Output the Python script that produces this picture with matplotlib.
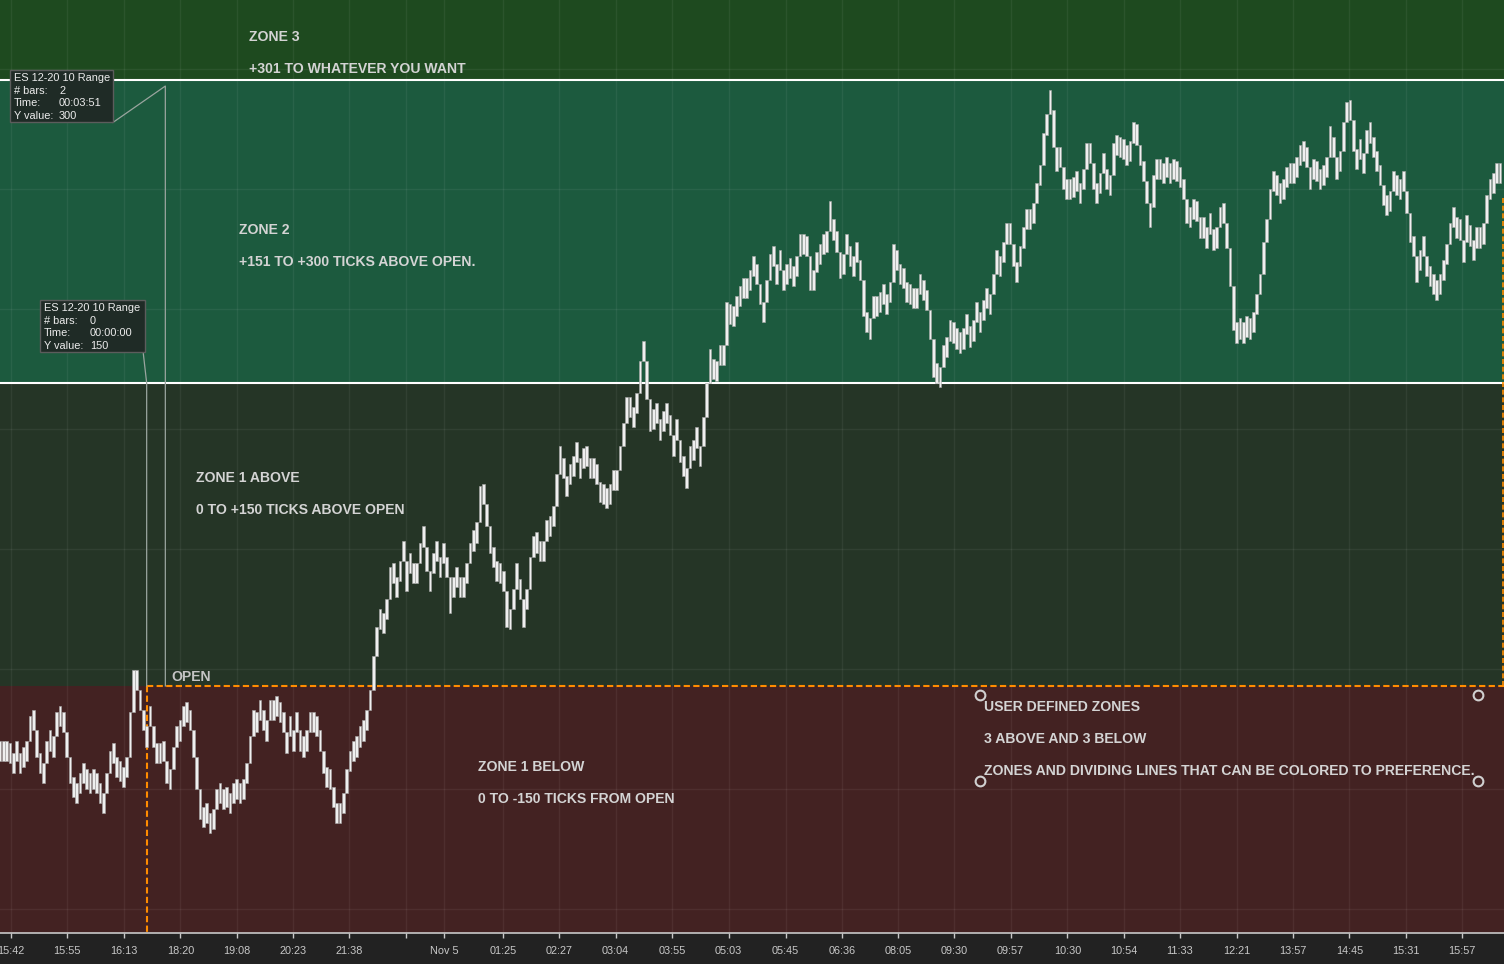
import matplotlib
matplotlib.use('Agg')
import matplotlib.pyplot as plt
from matplotlib.patches import Rectangle
from matplotlib.lines import Line2D

plt.rcParams['font.family'] = ['Liberation Sans', 'DejaVu Sans']

W, H = 1504, 964

# ---------------- data (ticks relative to the open, one value per 10-tick range bar) ----
seg_pre_open = [
    -32, -32, -32, -33, -38, -32, -38, -35, -32, -20,
    -17, -30, -38, -43, -32, -27, -30, -18, -15, -18,
    -30, -43, -50, -53, -48, -43, -46, -48, -46, -48,
    -53, -58, -48, -37, -33, -40, -42, -45, -40, -18,
    3, 3, -7, -17, -25, -15, -25, -33, -33, -32,
    -43, -46, -35, -25, -22, -15, -13, -17, -30, -46,
    -61, -65, -63, -68, -66, -56, -53, -56, -55, -58,
    -53, -51, -53, -51, -43, -30, -17, -18, -12, -17,
    -22, -12, -12, -10, -13, -18, -28, -20, -27, -18,
    -27, -30, -27, -18, -18, -20, -27, -38, -45, -46,
    -55, -63, -63, -58, -46, -37, -32, -30, -25, -22,
    -17, -7, 10]
seg_zone1 = [
    24, 33, 31, 38, 54, 56, 49, 57, 67, 52, 61, 56, 56, 66, 74, 62, 52, 61, 67, 59,
    66, 59, 41, 49, 54, 49, 49, 56, 66, 72, 76, 94, 95, 84, 71, 64, 57, 56, 52, 34,
    33, 43, 56, 48, 34, 43, 59, 69, 71, 67, 67, 77, 79, 84, 100]
seg_cross = [
    114, 108, 99, 105, 109, 116, 108, 113, 114, 108, 108, 105, 96, 95, 93, 95, 102, 102,
    114, 125, 138, 138, 133, 140, 156, 166, 147, 131, 132, 135, 127, 131, 135, 129, 119,
    127, 116, 109, 103, 114, 117, 123, 114, 128, 145, 162, 157, 156, 164, 164,
    185, 184, 183, 188]
seg_zone2a = [
    193, 197, 197, 201, 208, 204, 194, 185, 196, 209, 213, 204, 211, 201, 204, 207, 203,
    208, 219, 219, 218, 201, 201, 210, 214, 219, 220, 235, 226, 220, 207, 209, 219, 213,
    208, 215, 206, 188, 180, 177, 188, 188, 190, 194, 189, 195, 214, 211, 204, 202,
    195, 194, 192, 192, 199, 196, 191, 177, 158, 155, 153, 164, 168, 176, 175, 172]
seg_zone2b = [
    170, 172, 179, 173, 176, 185, 180, 186, 192, 189, 199, 211, 208, 215, 224, 224, 213,
    205, 213, 222, 231, 231, 234, 244, 253, 269, 278, 290, 272, 260, 262, 251, 246, 246,
    247, 250, 244, 251, 264, 264, 251, 244, 249, 259, 251, 248, 264, 268, 267, 266,
    263, 265, 274, 273, 263, 255, 244, 232, 248, 256, 256, 254, 257, 254, 256, 255,
    252, 246, 234, 232, 236, 235, 227]
seg_zone2c = [
    227, 222, 229, 221, 222, 232, 234, 222, 203, 181, 175, 177, 175, 178, 177, 180, 189,
    199, 215, 226, 241, 250, 248, 244, 246, 252, 254, 254, 257, 263, 265, 262, 251, 256,
    255, 251, 253, 257, 272, 267, 256, 260, 274, 284, 285, 270, 261, 266, 259, 270,
    274, 267, 260, 253, 243, 238, 240, 250, 248, 246, 250, 239, 225, 218, 205, 211,
    218, 208, 203, 199, 196, 199, 206, 214, 224, 232, 227, 226, 215, 228,
    223, 216, 222, 222, 224, 238, 246, 249, 254, 254]
bar_mid = seg_pre_open + seg_zone1 + seg_cross + seg_zone2a + seg_zone2b + seg_zone2c
bar_range = 10

open_bar = 44          # bar where the session opens
open_level = 0
zone_edges = [-400, 0, 150, 300, 600]
zone_colors = ['#432222', '#253526', '#1c5a3e', '#1e4a1f']
zone_lines = [150, 300]
last_marker = 242

grid_levels = [305.4, 246.0, 186.6, 127.2, 67.8, 8.4, -51.0, -110.4]

tick_bars = [3.2, 20.1, 37.1, 54.1, 71.0, 87.8, 104.7, 121.7, 133.3, 151.0, 167.8,
             184.7, 201.7, 218.6, 235.7, 252.6, 269.4, 286.3, 303.2, 320.2, 337.1,
             353.9, 371.0, 387.8, 404.8, 421.7, 438.6]
tick_labels = ["15:42", "15:55", "16:13", "18:20", "19:08", "20:23", "21:38", "", "Nov 5",
               "01:25", "02:27", "03:04", "03:55", "05:03", "05:45", "06:36", "08:05",
               "09:30", "09:57", "10:30", "10:54", "11:33", "12:21", "13:57", "14:45",
               "15:31", "15:57"]

tip1 = ["ES 12-20 10 Range", "# bars:", "Time:", "Y value:"]
tip1_vals = ["", "2", "00:03:51", "300"]
tip2_vals = ["", "0", "00:00:00", "150"]

# ---------------- figure ----------------
fig = plt.figure(figsize=(W / 100, H / 100), dpi=100, facecolor='#222222')
ax = fig.add_axes([0, 31 / H, 1, 933 / H])
ax.set_facecolor('#222222')
ax.set_xlim(0, W * 0.3)
ax.set_ylim(-122.3, 339.6)

for lo, hi, c in zip(zone_edges[:-1], zone_edges[1:], zone_colors):
    ax.axhspan(lo, hi, color=c, zorder=0, lw=0)

for g in grid_levels:
    ax.axhline(g, color='white', alpha=0.06, lw=1, zorder=1)
for tb in tick_bars:
    ax.axvline(tb, color='white', alpha=0.06, lw=1, zorder=1)

for z in zone_lines:
    ax.axhline(z, color='white', lw=1.5, zorder=3)

# orange open lines
dash = (0, (3, 1.6))
ax.plot([open_bar, W * 0.3], [open_level, open_level], color='#ff8c00', lw=1.5,
        ls=dash, zorder=4)
ax.plot([open_bar, open_bar], [open_level, -130], color='#ff8c00', lw=1.5,
        ls=dash, zorder=4)
ax.plot([W * 0.3 - 0.3, W * 0.3 - 0.3], [open_level, last_marker], color='#ff8c00', lw=1.2,
        ls=dash, zorder=4)

# measurement lines (data coords)
ax.plot([33.9, 49.6, 49.6], [279, 297, open_level], color='#9aa59f', lw=0.9, zorder=4)
ax.plot([43.0, 44.0, 44.0], [164.5, 150, open_level], color='#9aa59f', lw=0.9, zorder=4)

# range bars: each bar spans its 10-tick range and touches the previous bar
xs, lows, heights = [], [], []
half = bar_range / 2
for i, m in enumerate(bar_mid):
    lo, hi = m - half, m + half
    if i > 0:
        p = bar_mid[i - 1]
        lo = min(lo, p + half)
        hi = max(hi, p - half)
    xs.append(i)
    lows.append(lo)
    heights.append(hi - lo)
ax.bar(xs, heights, bottom=lows, width=0.88, color='#efefef',
       edgecolor='#a6a6a6', linewidth=0.4, zorder=5)

# axis styling
for s in ['top', 'left', 'right']:
    ax.spines[s].set_visible(False)
ax.spines['bottom'].set_color('#c8c8c8')
ax.spines['bottom'].set_linewidth(1.2)
ax.set_yticks([])
ax.set_xticks(tick_bars)
ax.set_xticklabels(tick_labels)
ax.tick_params(axis='x', colors='#c8c8c8', labelcolor='#c8c8c8', length=3.5, width=1,
               labelsize=7.8, pad=6)


def P(x, y):
    return x / W, 1 - y / H


txt = dict(color='#d4d4d4', fontsize=10.1, fontweight='bold', va='center', ha='left',
           family=['Liberation Sans', 'DejaVu Sans'])
fig.text(*P(249, 37), "ZONE 3", **txt)
fig.text(*P(249, 69), "+301 TO WHATEVER YOU WANT", **txt)
fig.text(*P(239, 230), "ZONE 2", **txt)
fig.text(*P(239, 262), "+151 TO +300 TICKS ABOVE OPEN.", **txt)
fig.text(*P(196, 478), "ZONE 1 ABOVE", **txt)
fig.text(*P(196, 510), "0 TO +150 TICKS ABOVE OPEN", **txt)
fig.text(*P(478, 767), "ZONE 1 BELOW", **txt)
fig.text(*P(478, 799), "0 TO -150 TICKS FROM OPEN", **txt)
fig.text(*P(984, 707), "USER DEFINED ZONES", **txt)
fig.text(*P(984, 739), "3 ABOVE AND 3 BELOW", **txt)
fig.text(*P(984, 771), "ZONES AND DIVIDING LINES THAT CAN BE COLORED TO PREFERENCE.", **txt)
otxt = dict(txt)
otxt['color'] = '#c4c4c4'
fig.text(*P(171, 677), "OPEN", **otxt)

for cx, cy in [(980, 695), (1478, 695), (980, 781), (1478, 781)]:
    fx, fy = P(cx, cy)
    fig.add_artist(Line2D([fx], [fy], transform=fig.transFigure, marker='o', ms=7,
                          mfc='#432222', mec='#d0d0d0', mew=1.5, ls='none', zorder=10))


def tooltip(x0, y0, w, h, vals, vx):
    fx, fy = P(x0, y0 + h)
    fig.add_artist(Rectangle((fx, fy), w / W, h / H, transform=fig.transFigure,
                             facecolor='#1f2b26', edgecolor='#5c5c5c', lw=1, zorder=10))
    for i, (lab, v) in enumerate(zip(tip1, vals)):
        yy = y0 + 8 + i * 12.7
        fig.text(*P(x0 + 4, yy), lab, color='#ececec', fontsize=7.9, va='center',
                 ha='left', zorder=11)
        if v:
            fig.text(*P(vx, yy), v, color='#ececec', fontsize=7.9, va='center',
                     ha='left', zorder=11)


tooltip(10, 70, 103, 52, tip1_vals, 59)
tooltip(40, 300, 105, 52, tip2_vals, 90)

fig.savefig('out.png', dpi=100, facecolor=fig.get_facecolor())
